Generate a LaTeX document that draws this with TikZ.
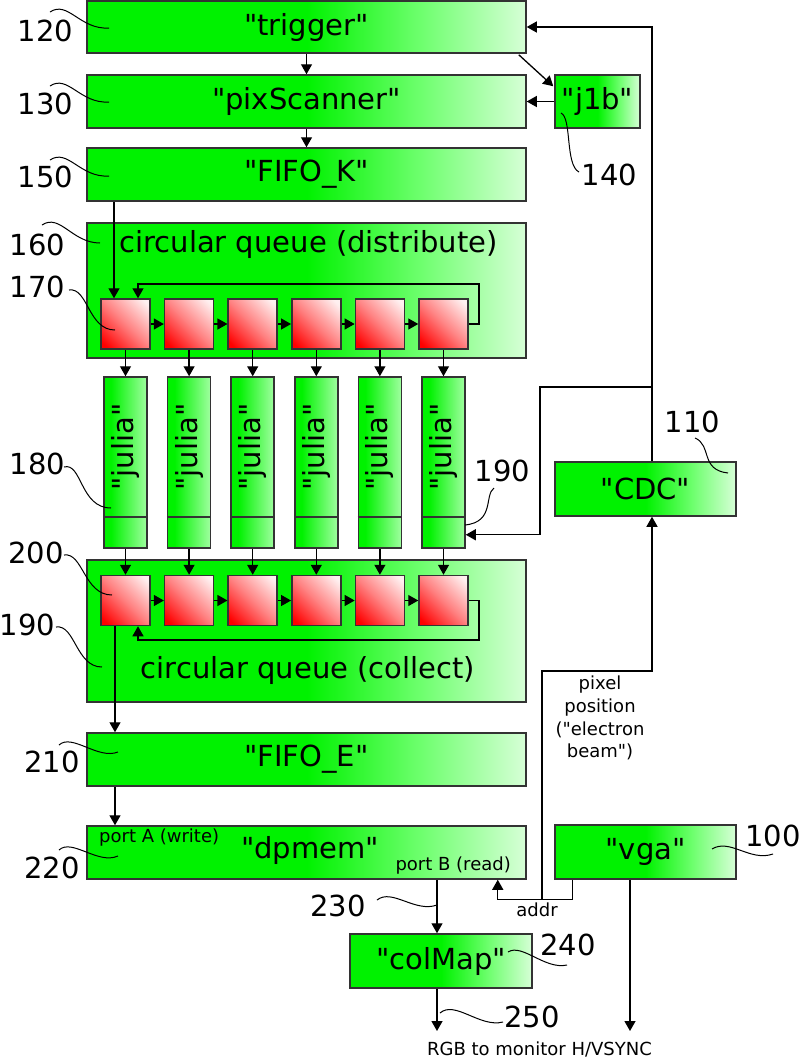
\documentclass[tikz,border=0pt]{standalone}
\usepackage{fontspec}
\setmainfont{DejaVu Sans}[Ligatures=TeXOff]
\usetikzlibrary{arrows.meta,calc}
\definecolor{gA}{RGB}{0,242,0}
\definecolor{gM}{RGB}{110,255,110}
\definecolor{gB}{RGB}{215,255,215}
\definecolor{jB}{RGB}{160,255,160}
\definecolor{rA}{RGB}{255,0,0}
\definecolor{rM}{RGB}{255,130,130}
\definecolor{rB}{RGB}{255,240,240}
\definecolor{bord}{RGB}{51,51,51}
\pgfdeclarehorizontalshading{gshade}{100bp}{color(0bp)=(gA); color(50bp)=(gA); color(63bp)=(gM); color(75bp)=(gB); color(100bp)=(gB)}
\pgfdeclarehorizontalshading{jshade}{100bp}{color(0bp)=(gA); color(33bp)=(gA); color(75bp)=(jB); color(100bp)=(jB)}
\pgfdeclarehorizontalshading{rshade}{100bp}{color(0bp)=(rA); color(20bp)=(rA); color(50bp)=(rM); color(80bp)=(rB); color(100bp)=(rB)}
\tikzset{
  base/.style={draw=bord, line width=1.5pt, inner sep=0pt},
  gbox/.style={base, shade, shading=gshade, font=\fontsize{29}{34}\selectfont},
  jbox/.style={base, shade, shading=jshade, minimum width=43pt, minimum height=171pt},
  rsq/.style={base, shade, shading=rshade, shading angle=45, minimum width=49pt, minimum height=50pt},
  big/.style={inner sep=0pt, font=\fontsize{29}{34}\selectfont},
  small/.style={inner sep=0pt, font=\fontsize{18}{22.7}\selectfont},
  arr/.style={line width=1.3pt, -{Triangle[length=10pt,width=11pt]}},
  lead/.style={line width=1pt},
}
\begin{document}
\begin{tikzpicture}[x=1pt,y=-1pt]
\useasboundingbox (0,0) rectangle (800,1058);

% main boxes
\node[gbox, minimum width=439pt, minimum height=52pt] (trigger) at (306.5,27) {"trigger"};
\node[gbox, minimum width=439pt, minimum height=53pt] (pix) at (306.5,101.5) {"pixScanner"};
\node[gbox, minimum width=85pt, minimum height=53pt] (j1b) at (597.5,101.5) {"j1b"};
\node[gbox, minimum width=439pt, minimum height=53pt] (fifok) at (306.5,174.5) {"FIFO\_K"};
\node[gbox, minimum width=439pt, minimum height=135pt] (distq) at (306.5,290.5) {};
\node[big] (distl) at (308.5,244.5) {circular queue (distribute)};
\node[gbox, minimum width=439pt, minimum height=142pt] (collq) at (306.5,631) {};
\node[big] (colll) at (308,670.5) {circular queue (collect)};
\node[gbox, minimum width=439pt, minimum height=53pt] (fifoe) at (306.5,759.5) {"FIFO\_E"};
\node[gbox, minimum width=439pt, minimum height=53pt] (dpmem) at (306.5,852.5) {};
\node[big] (dpl) at (310,850) {"dpmem"};
\node[small, anchor=west] (porta) at (99,838) {port A (write)};
\node[small, anchor=east] (portb) at (511,866) {port B (read)};
\node[gbox, minimum width=181pt, minimum height=54pt] (cdc) at (645.5,489) {"CDC"};
\node[gbox, minimum width=181pt, minimum height=54pt] (vga) at (645.5,852) {"vga"};
\node[gbox, minimum width=182pt, minimum height=54pt] (colmap) at (441,961) {"colMap"};

% queues and julia units
\coordinate (dv) at (0,517);
\foreach \i in {1,...,6} {
  \pgfmathsetmacro\cx{125.5+63.6*(\i-1)}
  \node[rsq] (s\i) at (\cx,324) {};
  \node[rsq] (c\i) at (\cx,600.5) {};
  \node[jbox] (j\i) at (\cx,462.5) {};
  \draw[draw=bord, line width=1.5pt] (j\i.west |- dv) -- (j\i.east |- dv);
  \node[big, rotate=90] (jt\i) at (\cx,447) {"julia"};
  \draw[arr] (s\i.south) -- (j\i.north);
  \draw[arr] (j\i.south) -- (c\i.north);
}
\foreach \i/\k in {1/2,2/3,3/4,4/5,5/6} {
  \draw[arr] (s\i.east) -- (s\k.west);
  \draw[arr] (c\i.east) -- (c\k.west);
}
\coordinate (dl) at (479,284);
\coordinate (dlin) at ($(s1.north)+(12.5,0)$);
\draw[arr] (s6.east) -| (dl) -| (dlin);
\coordinate (cl) at (479,640);
\coordinate (clin) at ($(c1.south)+(12.5,0)$);
\draw[arr] (c6.east) -| (cl) -| (clin);

% vertical flow
\draw[arr] (trigger.south) -- (pix.north);
\draw[arr] (pix.south) -- (fifok.north);
\draw[arr] (j1b.west) -- (pix.east);
\coordinate (tj) at ($(trigger.south east)+(-8,1)$);
\coordinate (jtip) at ($(j1b.north west)+(-1,12)$);
\draw[arr] (tj) -- (jtip);
\coordinate (kin) at ($(s1.north)+(-11.5,0)$);
\draw[arr] (kin |- fifok.south) -- (kin);
\coordinate (eo) at ($(c1.south)+(-10.5,0)$);
\draw[arr] (eo) -- (eo |- fifoe.north);
\draw[arr] (eo |- fifoe.south) -- (eo |- dpmem.north);

% right side network
\coordinate (cx) at ($(cdc.north)+(6.5,0)$);
\draw[arr] (cx) |- (trigger.east);
\coordinate (br) at (652,387);
\coordinate (brA) at (540,387);
\coordinate (j6in) at ($(j6.south east)+(0,-14)$);
\draw[arr] (br) -- (brA) |- (j6in);
\coordinate (va) at ($(vga.south west)+(18,0)$);
\coordinate (dpB) at ($(dpmem.south east)+(-29,0)$);
\draw[arr] (va) -- ++(0,20) -| (dpB);
\coordinate (jn) at (542,899);
\coordinate (cdcs) at ($(cdc.south)+(6.5,0)$);
\draw[arr] (jn) -- (542,671) -| (cdcs);
\coordinate (cm) at ($(colmap.north)+(-4,0)$);
\draw[arr] (cm |- dpmem.south) -- (cm);
\coordinate (rgbout) at (437,1031);
\draw[arr] (cm |- colmap.south) -- (rgbout);
\coordinate (vgaout) at (630,1031);
\draw[arr] (vgaout |- vga.south) -- (vgaout);

% texts
\node[small, anchor=base] (rgbt) at (539.5,1055) {RGB to monitor H/VSYNC};
\node[small, anchor=base] (addr) at (537,916) {addr};
\node[small, align=center, anchor=north] (pixt) at (600,676) {pixel\\position\\("electron\\beam")};

% reference numbers
\node[big] (n120) at (45.5,30.5) {120};
\node[big] (n130) at (45.5,104) {130};
\node[big] (n150) at (45.5,177) {150};
\node[big] (n160) at (37.5,245) {160};
\node[big] (n170) at (37.5,287) {170};
\node[big] (n140) at (609.5,175) {140};
\node[big] (n180) at (37.5,464) {180};
\node[big] (n190a) at (502.5,471) {190};
\node[big] (n110) at (692.5,421.5) {110};
\node[big] (n200) at (36,553) {200};
\node[big] (n190b) at (27.5,624.5) {190};
\node[big] (n210) at (52,762) {210};
\node[big] (n220) at (52,868) {220};
\node[big] (n230) at (338,906) {230};
\node[big] (n240) at (568,944.5) {240};
\node[big] (n250) at (532,1016.5) {250};
\node[big] (n100) at (773,836) {100};

% leaders
\draw[lead] (50,12) .. controls (68,0) and (80,30) .. (109,28);
\draw[lead] (50,86) .. controls (68,74) and (80,104) .. (109,102);
\draw[lead] (50,160) .. controls (68,148) and (80,178) .. (109,176);
\draw[lead] (42,225) .. controls (60,213) and (72,243) .. (100,243);
\draw[lead] (69,290) .. controls (88,287) and (88,330) .. (115,330);
\draw[lead] (561,113) .. controls (572,118) and (565,165) .. (579,172);
\draw[lead] (64,467) .. controls (82,462) and (80,508) .. (111,508);
\draw[lead] (494,488) .. controls (484,495) and (495,522) .. (465,525);
\draw[lead] (695,438) .. controls (712,445) and (700,470) .. (728,473);
\draw[lead] (64,555) .. controls (83,552) and (84,595) .. (112,595);
\draw[lead] (56,627) .. controls (75,624) and (76,667) .. (102,667);
\draw[lead] (59,745) .. controls (72,733) and (98,760) .. (118,752);
\draw[lead] (59,850) .. controls (72,838) and (98,865) .. (118,856);
\draw[lead] (377,900) .. controls (392,888) and (415,913) .. (437,905);
\draw[lead] (508,952) .. controls (522,943) and (545,970) .. (567,965);
\draw[lead] (440,1013) .. controls (455,1000) and (480,1028) .. (503,1022);
\draw[lead] (712,849) .. controls (730,838) and (750,862) .. (773,854);
\end{tikzpicture}
\end{document}
